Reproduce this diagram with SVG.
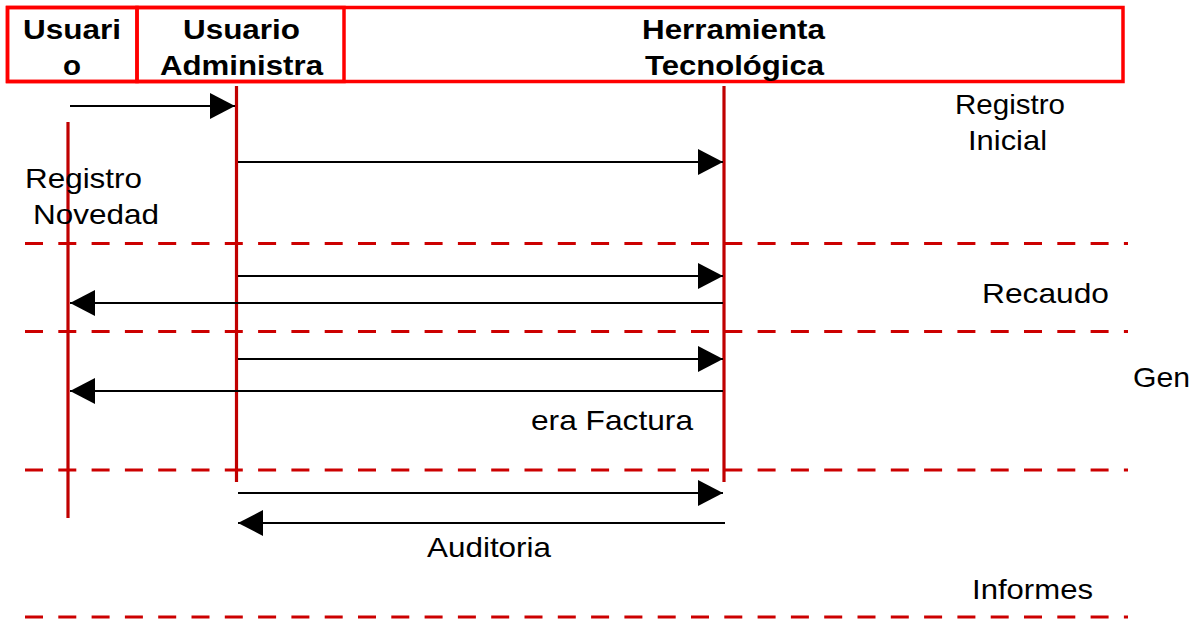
<svg xmlns="http://www.w3.org/2000/svg" width="1202" height="619" viewBox="0 0 1202 619">
<style>
.hdr{fill:none;stroke:#ff0000;stroke-width:3.5}
.ht{font-family:"Liberation Sans",Arial,sans-serif;font-weight:bold;font-size:28px;fill:#000}
.t{font-family:"Liberation Sans",Arial,sans-serif;font-size:28px;fill:#000}
.life{stroke:#c00000;stroke-width:3.2;fill:none}
.dash{stroke:#cc0000;stroke-width:3;stroke-dasharray:18 15.3;fill:none}
.msg{stroke:#000;stroke-width:2;fill:none;marker-end:url(#ah)}
</style>
<defs>
<marker id="ah" markerUnits="userSpaceOnUse" markerWidth="26" markerHeight="26" refX="25" refY="13" orient="auto" overflow="visible">
<path d="M0,0 L25,13 L0,26 Z" fill="#000"/>
</marker>
</defs>
<rect width="1202" height="619" fill="#fff"/>
<g id="header">
<rect class="hdr" x="7.5" y="7.5" width="1115.5" height="74"/>
</g>
<g id="node-usuario">
<rect class="hdr" x="7.5" y="7.5" width="129.5" height="74"/>
<text class="ht" x="23" y="39" textLength="98" lengthAdjust="spacingAndGlyphs">Usuari</text>
<text class="ht" x="63" y="75" textLength="18" lengthAdjust="spacingAndGlyphs">o</text>
</g>
<g id="node-admin">
<rect class="hdr" x="137" y="7.5" width="207" height="74"/>
<text class="ht" x="183" y="39" textLength="117" lengthAdjust="spacingAndGlyphs">Usuario</text>
<text class="ht" x="160" y="75" textLength="163" lengthAdjust="spacingAndGlyphs">Administra</text>
</g>
<g id="node-herramienta">
<text class="ht" x="642" y="39" font-size="33" textLength="183" lengthAdjust="spacingAndGlyphs">Herramienta</text>
<text class="ht" x="645" y="75" font-size="33" textLength="179" lengthAdjust="spacingAndGlyphs">Tecnológica</text>
</g>
<g id="lifelines">
<line class="life" x1="68" y1="122" x2="68" y2="518"/>
<line class="life" x1="236.5" y1="86" x2="236.5" y2="482"/>
<line class="life" x1="724" y1="86" x2="724" y2="482"/>
</g>
<g id="separators">
<line class="dash" x1="25" y1="243.5" x2="1128" y2="243.5"/>
<line class="dash" x1="25" y1="331.5" x2="1128" y2="331.5"/>
<line class="dash" x1="25" y1="470" x2="1128" y2="470"/>
<line class="dash" x1="25" y1="617" x2="1128" y2="617"/>
</g>
<g id="connectors">
<line class="msg" x1="70" y1="106" x2="235" y2="106"/>
<line class="msg" x1="238" y1="162" x2="723" y2="162"/>
<line class="msg" x1="238" y1="276" x2="723" y2="276"/>
<line class="msg" x1="723" y1="303" x2="70" y2="303"/>
<line class="msg" x1="238" y1="359" x2="723" y2="359"/>
<line class="msg" x1="723" y1="391" x2="70" y2="391"/>
<line class="msg" x1="238" y1="493" x2="723" y2="493"/>
<line class="msg" x1="725" y1="523" x2="238" y2="523"/>
</g>
<g id="labels">
<text class="t" x="955" y="114" textLength="110" lengthAdjust="spacingAndGlyphs">Registro</text>
<text class="t" x="968" y="150" textLength="79" lengthAdjust="spacingAndGlyphs">Inicial</text>
<text class="t" x="25" y="188" textLength="117" lengthAdjust="spacingAndGlyphs">Registro</text>
<text class="t" x="33" y="224" textLength="126" lengthAdjust="spacingAndGlyphs">Novedad</text>
<text class="t" x="982" y="303" textLength="127" lengthAdjust="spacingAndGlyphs">Recaudo</text>
<text class="t" x="1133" y="387" textLength="57" lengthAdjust="spacingAndGlyphs">Gen</text>
<text class="t" x="531" y="430" textLength="162" lengthAdjust="spacingAndGlyphs">era Factura</text>
<text class="t" x="427" y="557" textLength="124" lengthAdjust="spacingAndGlyphs">Auditoria</text>
<text class="t" x="972" y="599" textLength="121" lengthAdjust="spacingAndGlyphs">Informes</text>
</g>
</svg>
